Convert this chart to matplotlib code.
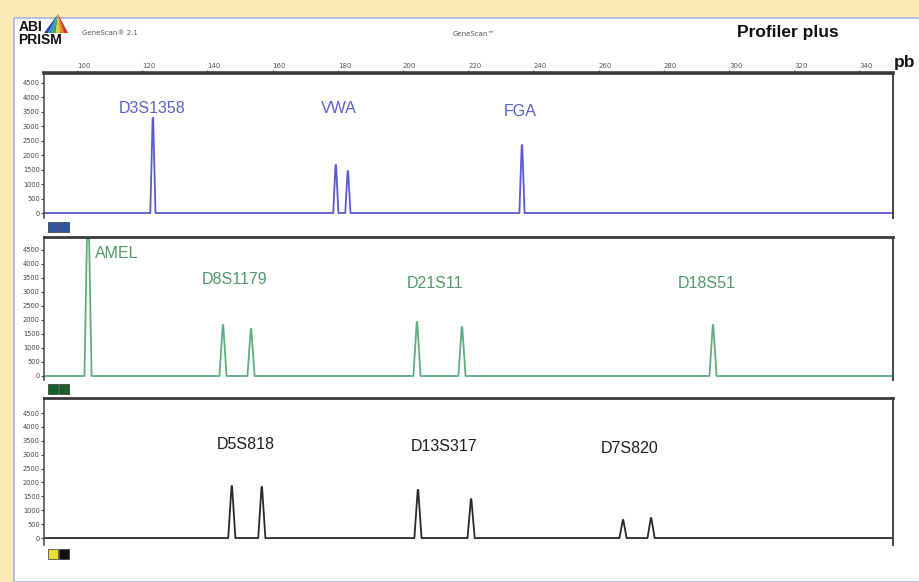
import matplotlib.pyplot as plt
from matplotlib.patches import Rectangle, Polygon

# fragment sizes (pb) and peak heights (rfu)
blue_sizes = [123.3, 179.4, 183.1, 236.5]
blue_heights = [3290, 1660, 1450, 2350]
blue_loci = ['D3S1358', 'VWA', 'FGA']

green_sizes = [103.4, 144.8, 153.4, 204.3, 218.1, 295.1]
green_heights = [6500, 1820, 1680, 1930, 1750, 1820]
green_loci = ['AMEL', 'D8S1179', 'D21S11', 'D18S51']

black_sizes = [147.5, 156.7, 204.6, 220.9, 267.5, 276.1]
black_heights = [1870, 1840, 1730, 1400, 650, 720]
black_loci = ['D5S818', 'D13S317', 'D7S820']

size_ticks = list(range(100, 341, 20))
rfu_ticks = list(range(0, 4501, 500))
rfu_labels = [str(v) for v in rfu_ticks]

W, H = 920, 582
XMIN, XMAX = 89.9, 350.3

# label anchors (pb, rfu)
blue_lab = [(123.0, 3600), (180.4, 3600), (235.9, 3530)]
green_lab = [(112.3, 4390), (148.5, 3430), (209.8, 3320), (293.3, 3320)]
black_lab = [(151.8, 3380), (212.6, 3310), (269.6, 3240)]


def fx(x):
    return x / W


def fy(y):
    return 1 - y / H


def trace(sizes, heights, half=1.1):
    xs, ys = [XMIN], [0]
    for s, h in zip(sizes, heights):
        xs += [s - half, s - 0.08, s + 0.08, s + half]
        ys += [0, h, h, 0]
    xs.append(XMAX)
    ys.append(0)
    return xs, ys


fig = plt.figure(figsize=(W / 100, H / 100), dpi=100)
fig.patch.set_facecolor('#fce9b6')
fig.add_artist(Rectangle((fx(14), 0), fx(W - 14), fy(18), transform=fig.transFigure,
                         facecolor='white', edgecolor='#a8b6e0', lw=1.2, zorder=-5))

# header
fig.text(fx(19), fy(27), 'ABI', fontsize=10, fontweight='bold', family='Liberation Sans',
         va='center', ha='left', color='#111')
fig.text(fx(18), fy(40), 'PRISM', fontsize=10, fontweight='bold', family='Liberation Sans',
         va='center', ha='left', color='#111')
tri_cols = ['#2d3f9e', '#2f8fd0', '#3aa85a', '#d8d13a', '#e08a2a', '#d0302a']
for i, c in enumerate(tri_cols):
    f0, f1 = i / len(tri_cols), (i + 1) / len(tri_cols)
    x0 = 44 + (68 - 44) * f0
    x1 = 44 + (68 - 44) * f1
    fig.add_artist(Polygon([(fx(58), fy(14)), (fx(x0), fy(33)), (fx(x1), fy(33))],
                           closed=True, transform=fig.transFigure, facecolor=c, edgecolor='none'))
fig.text(fx(82), fy(33), 'GeneScan\u00ae 2.1', fontsize=5, color='#555', va='center')
fig.text(fx(453), fy(34), 'GeneScan\u2122', fontsize=5, color='#555', va='center')
fig.text(fx(737), fy(33), 'Profiler plus', fontsize=12.5, fontweight='bold',
         family='Liberation Sans', color='#111', va='center')
fig.text(fx(894), fy(62), 'pb', fontsize=12.5, fontweight='bold',
         family='Liberation Sans', color='#111', va='center')

panels = [
    (73, 218, -173, 4846, blue_sizes, blue_heights, '#5a5ad2', '#5b5fc8', blue_loci, blue_lab,
     ['#2f55a3', '#2f55a3']),
    (237, 380, -143, 4964, green_sizes, green_heights, '#5fae80', '#4f9a68', green_loci, green_lab,
     ['#16602c', '#16602c']),
    (398, 545, -250, 5040, black_sizes, black_heights, '#2a2a2a', '#1e1e1e', black_loci, black_lab,
     ['#e6df3c', '#111111']),
]

for i, (top, bot, y0, y1, sizes, heights, col, lcol, loci, labs, sw) in enumerate(panels):
    ax = fig.add_axes([fx(44), fy(bot), fx(893 - 44), (bot - top) / H])
    ax.set_facecolor('none')
    xs, ys = trace(sizes, heights, half=0.8 if i == 0 else 1.1)
    ax.plot(xs, ys, color=col, lw=1.3, clip_on=True)
    ax.set_xlim(XMIN, XMAX)
    ax.set_ylim(y0, y1)
    for name, (lx, ly) in zip(loci, labs):
        ax.text(lx, ly, name, color=lcol, fontsize=11.5, family='Liberation Sans',
                ha='center', va='center')
    ax.set_yticks(rfu_ticks)
    ax.set_yticklabels(rfu_labels)
    ax.tick_params(axis='y', direction='out', length=2, width=0.8, labelsize=4.8,
                   pad=1, colors='#444')
    if i == 0:
        ax.xaxis.tick_top()
        ax.set_xticks(size_ticks)
        ax.tick_params(axis='x', direction='out', length=2, width=0.8, labelsize=5,
                       pad=1, colors='#555')
        for lab in ax.get_xticklabels():
            lab.set_horizontalalignment('left')
    else:
        ax.set_xticks([])
    ax.spines['bottom'].set_visible(False)
    ax.spines['top'].set_linewidth(2.6 if i == 0 else 2)
    ax.spines['top'].set_color('#3a3a3a')
    ax.spines['left'].set_linewidth(1.1)
    ax.spines['left'].set_color('#444')
    ax.spines['right'].set_linewidth(1.4)
    ax.spines['right'].set_color('#444')
    # dye swatches
    for k, c in enumerate(sw):
        fig.add_artist(Rectangle((fx(48 + k * 11), fy(bot + 14)), fx(10), 10 / H,
                                 transform=fig.transFigure, facecolor=c, edgecolor='#333', lw=0.5))

fig.savefig('out.png', dpi=100)
